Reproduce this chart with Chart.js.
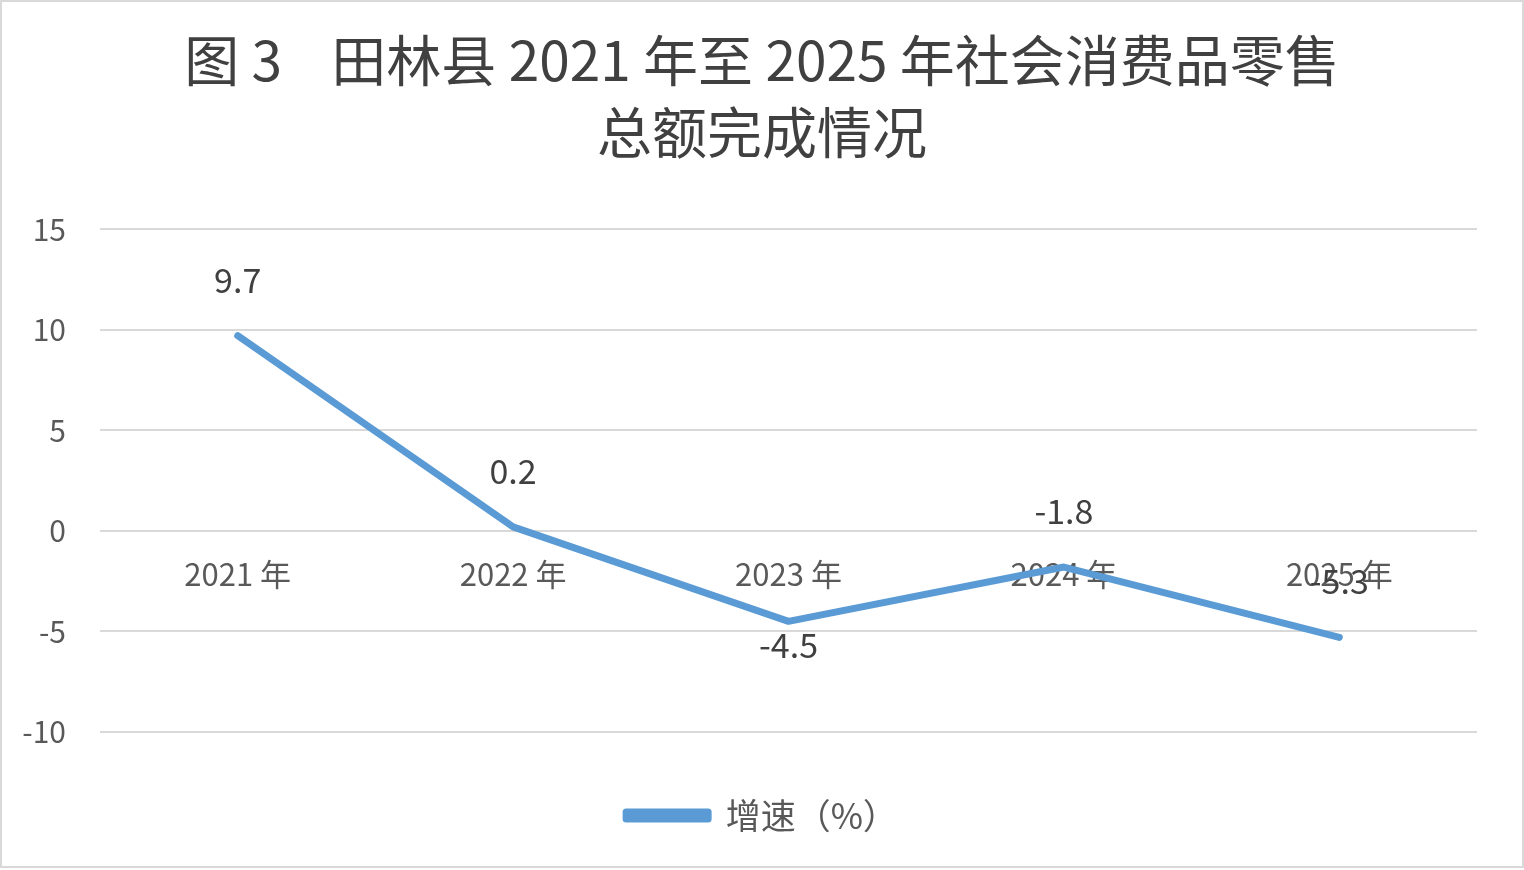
<!DOCTYPE html>
<html>
<head>
<meta charset="utf-8">
<script src="https://cdn.jsdelivr.net/npm/chart.js@4"></script>
<style>
  html, body { margin: 0; padding: 0; background: #fff; }
  #wrap { width: 1520px; height: 864px; border: 2px solid #d9d9d9; position: relative; }
</style>
</head>
<body>
<div id="wrap"><canvas id="rsChart"></canvas></div>
<script>
// 田林县 社会消费品零售总额 增速
const categories = ["2021 年", "2022 年", "2023 年", "2024 年", "2025 年"];
const growthRate = [9.7, 0.2, -4.5, -1.8, -5.3];
const yTicks = [-10, -5, 0, 5, 10, 15];
const seriesName = "增速（%）";
const titleLines = ["图 3    田林县 2021 年至 2025 年社会消费品零售", "总额完成情况"];

const CJK = '"Noto Sans CJK SC", "Noto Sans", sans-serif';

// data labels: above the point, except the 2023 one which sits below
const labelBelow = [false, false, true, false, false];

const valueLabels = {
  id: "valueLabels",
  afterDatasetsDraw(chart) {
    const ctx = chart.ctx;
    const meta = chart.getDatasetMeta(0);
    ctx.save();
    ctx.font = "34px " + CJK;
    ctx.fillStyle = "#404040";
    ctx.textAlign = "center";
    ctx.textBaseline = "middle";
    meta.data.forEach((pt, i) => {
      const dy = labelBelow[i] ? 24 : -56;
      ctx.fillText(String(growthRate[i]), pt.x, pt.y + dy);
    });
    ctx.restore();
  }
};

new Chart(document.getElementById("rsChart"), {
  type: "line",
  data: {
    labels: categories,
    datasets: [{
      label: seriesName,
      data: growthRate,
      borderColor: "#5b9bd5",
      backgroundColor: "#5b9bd5",
      borderWidth: 7,
      borderCapStyle: "round",
      borderJoinStyle: "round",
      pointRadius: 0,
      tension: 0
    }]
  },
  options: {
    responsive: true,
    maintainAspectRatio: false,
    animation: false,
    layout: { padding: { left: 0, right: 0, top: 22, bottom: 23 } },
    plugins: {
      title: {
        display: true,
        text: titleLines,
        color: "#404040",
        font: { family: CJK, size: 55, weight: "normal", lineHeight: 1.31 },
        padding: { top: 0, bottom: 61 }
      },
      legend: {
        position: "bottom",
        labels: {
          color: "#595959",
          font: { family: CJK, size: 35 },
          boxWidth: 82,
          boxHeight: 7,
          padding: 66
        }
      },
      tooltip: { enabled: false }
    },
    scales: {
      x: {
        position: { y: 0 },
        offset: true,
        grid: { display: false },
        border: { display: false },
        ticks: { color: "#595959", font: { family: CJK, size: 31 }, padding: 17, maxRotation: 0 }
      },
      y: {
        min: -10,
        max: 15,
        afterBuildTicks: s => { s.ticks = yTicks.map(v => ({ value: v })); },
        afterFit: s => { s.width = 98; },
        grid: { color: "#d9d9d9", lineWidth: 2, drawTicks: false },
        border: { display: false },
        ticks: { color: "#595959", font: { family: CJK, size: 30 }, padding: 34 }
      },
      // empty right-hand margin so the title and legend stay centred on the page
      yRight: {
        position: "right",
        grid: { display: false },
        border: { display: false },
        ticks: { display: false },
        afterFit: s => { s.width = 45; }
      }
    }
  },
  plugins: [valueLabels]
});
</script>
</body>
</html>
